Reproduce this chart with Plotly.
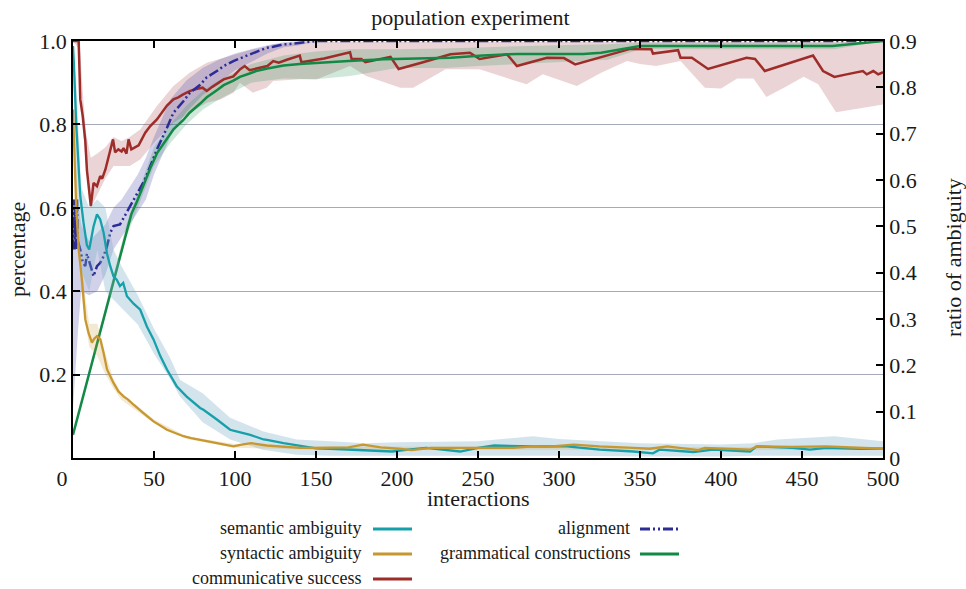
import plotly.graph_objects as go

# ---------------- data ----------------
# communicative success (left axis, percentage)
cs_x = [0, 3.5, 4.5, 6, 7.6, 8.6, 10, 11, 12.7, 14.8, 16.8, 18, 20, 22, 24.7, 26, 28, 30, 31.2, 33, 34.3, 36, 38,
        40.5, 44.6, 47.7, 51.8, 55, 58, 62, 65, 68, 72, 76, 80, 82.6, 86, 93, 99, 103, 106, 109, 115, 120, 123.6,
        127, 132, 136, 140, 141, 155, 171, 172, 178, 180.5, 196, 201, 215, 233, 245, 251, 268, 274, 292.6, 303,
        310, 325.8, 344, 357, 358, 373.5, 375, 382, 392, 415.8, 421, 427, 456.8, 463, 470, 477.5, 487.6, 490, 494,
        497, 500]
cs_y = [1.0, 1.0, 0.86, 0.82, 0.76, 0.69, 0.64, 0.604, 0.66, 0.652, 0.676, 0.67, 0.692, 0.72, 0.764, 0.733, 0.74,
        0.735, 0.743, 0.73, 0.764, 0.74, 0.745, 0.75, 0.78, 0.796, 0.812, 0.83, 0.845, 0.86, 0.865, 0.872, 0.88,
        0.885, 0.888, 0.88, 0.89, 0.908, 0.915, 0.932, 0.94, 0.93, 0.935, 0.94, 0.952, 0.948, 0.955, 0.96, 0.965,
        0.949, 0.958, 0.973, 0.957, 0.957, 0.949, 0.962, 0.933, 0.948, 0.968, 0.972, 0.957, 0.968, 0.94, 0.96,
        0.959, 0.944, 0.962, 0.981, 0.98, 0.97, 0.978, 0.96, 0.96, 0.933, 0.96, 0.957, 0.928, 0.965, 0.928, 0.914,
        0.92, 0.928, 0.92, 0.928, 0.92, 0.925]
cs_band_x = [0, 4, 6, 8, 11, 15, 20, 25, 30, 35, 41.5, 51.8, 62, 72, 82.6, 91, 99, 103, 111, 119.5, 123.6, 140,
             150.6, 171, 181, 202, 210, 230, 251, 280, 290, 311, 326, 342, 350, 360, 375, 390, 400, 410, 420, 428,
             440, 451, 460, 471, 480, 490, 500]
cs_band_hi = [1.0, 1.0, 0.88, 0.78, 0.72, 0.73, 0.745, 0.77, 0.76, 0.77, 0.788, 0.844, 0.892, 0.924, 0.948, 0.958,
              0.966, 0.972, 0.98, 0.986, 0.992, 0.996, 0.998, 0.998, 0.998, 0.998, 0.998, 0.998, 0.998, 0.998,
              0.998, 0.998, 0.998, 0.998, 0.998, 0.998, 0.998, 0.998, 0.998, 0.998, 0.998, 0.998, 0.998, 0.998,
              0.998, 0.998, 0.998, 0.998, 0.998]
cs_band_lo = [1.0, 0.98, 0.8, 0.7, 0.6, 0.63, 0.67, 0.7, 0.7, 0.7, 0.716, 0.764, 0.804, 0.828, 0.852, 0.86, 0.876,
              0.9, 0.876, 0.888, 0.904, 0.908, 0.908, 0.94, 0.916, 0.888, 0.888, 0.932, 0.932, 0.896, 0.92, 0.892,
              0.924, 0.952, 0.945, 0.94, 0.952, 0.888, 0.886, 0.91, 0.91, 0.866, 0.89, 0.914, 0.896, 0.829, 0.836,
              0.842, 0.848]

# alignment (left axis)
al_x = [0, 0.5, 1, 1.5, 2, 2.5, 3, 4.5, 6, 7.6, 8.6, 10.7, 12.7, 14.8, 16.8, 18.9, 21, 23, 25, 29, 33.3, 36, 39.5,
        44, 47.7, 51.8, 58, 62, 68, 72, 78.5, 82.6, 88.8, 93, 99, 103, 109, 113, 119.7, 123.6, 130, 134, 140, 150,
        500]
al_y = [0.5, 0.62, 0.5, 0.6, 0.5, 0.62, 0.52, 0.5, 0.47, 0.46, 0.49, 0.46, 0.436, 0.46, 0.468, 0.484, 0.508, 0.54,
        0.556, 0.56, 0.59, 0.61, 0.632, 0.665, 0.7, 0.74, 0.792, 0.828, 0.855, 0.875, 0.895, 0.913, 0.928, 0.94,
        0.952, 0.958, 0.968, 0.974, 0.984, 0.986, 0.992, 0.993, 0.996, 1.0, 1.0]
al_band_x = [0, 3, 5, 10, 15, 20, 25, 30, 35, 40, 45, 50, 60, 70, 80, 90, 100, 110, 120, 130, 140, 150, 500]
al_band_hi = [0.62, 0.62, 0.56, 0.52, 0.54, 0.56, 0.6, 0.62, 0.65, 0.68, 0.72, 0.77, 0.86, 0.905, 0.935, 0.955,
              0.97, 0.98, 0.99, 0.997, 1.0, 1.0, 1.0]
al_band_lo = [0.12, 0.3, 0.4, 0.39, 0.4, 0.44, 0.5, 0.53, 0.56, 0.59, 0.62, 0.68, 0.77, 0.83, 0.87, 0.9, 0.93,
              0.95, 0.97, 0.985, 0.99, 1.0, 1.0]

# grammatical constructions (left axis)
gc_x = [0, 33.3, 36, 39.5, 44, 47.7, 52, 58, 62, 68, 72, 78.5, 82.6, 88.8, 93, 99, 103, 109, 113, 120, 130, 140,
        150.6, 170, 191.7, 233, 253, 274, 315, 326, 350, 395, 468.8, 500]
gc_y = [0.056, 0.548, 0.585, 0.615, 0.66, 0.695, 0.732, 0.765, 0.788, 0.81, 0.828, 0.85, 0.865, 0.882, 0.894,
        0.905, 0.914, 0.922, 0.928, 0.934, 0.941, 0.945, 0.948, 0.952, 0.956, 0.96, 0.965, 0.969, 0.969, 0.972,
        0.988, 0.988, 0.988, 1.0]
gc_band_x = [0, 33, 40, 50, 60, 70, 80, 90, 100, 110, 130, 150, 171, 200, 230, 250, 280, 300, 330, 350, 400, 450,
             470, 500]
gc_band_hi = [0.06, 0.56, 0.635, 0.745, 0.8, 0.845, 0.88, 0.905, 0.925, 0.945, 0.965, 0.975, 0.98, 0.98, 0.982,
              0.985, 0.988, 0.99, 0.992, 0.996, 0.996, 0.996, 0.996, 1.0]
gc_band_lo = [0.05, 0.53, 0.6, 0.7, 0.755, 0.8, 0.835, 0.86, 0.88, 0.9, 0.91, 0.908, 0.916, 0.935, 0.935, 0.94,
              0.945, 0.95, 0.955, 0.98, 0.98, 0.98, 0.98, 1.0]

# semantic ambiguity (right axis, ratio of ambiguity)
sa_x = [0, 0.5, 2, 3.5, 4.5, 6.5, 8.6, 10, 12.7, 14.8, 16.8, 18.9, 21, 23, 25, 27, 29, 31, 33.3, 37.4, 41.5, 45.6,
        49.7, 53.9, 58, 64, 66, 70, 78.5, 80.5, 88.8, 97, 99, 109.4, 117.6, 119.7, 130, 138, 150, 158.7, 181, 197,
        207, 218, 239, 250, 260, 284, 305, 315, 325, 346, 356, 358, 362, 383, 395, 418, 422, 444, 455, 465, 485,
        500]
sa_y = [0.889, 0.855, 0.72, 0.63, 0.565, 0.508, 0.459, 0.45, 0.5, 0.526, 0.515, 0.486, 0.441, 0.414, 0.392, 0.385,
        0.371, 0.378, 0.349, 0.333, 0.32, 0.284, 0.256, 0.22, 0.191, 0.155, 0.148, 0.133, 0.108, 0.104, 0.083,
        0.061, 0.059, 0.05, 0.04, 0.039, 0.032, 0.027, 0.021, 0.02, 0.017, 0.014, 0.018, 0.022, 0.014, 0.022,
        0.027, 0.025, 0.025, 0.022, 0.018, 0.014, 0.011, 0.01, 0.018, 0.013, 0.018, 0.014, 0.025, 0.022, 0.018,
        0.022, 0.02, 0.02]
sa_band_x = [0, 2, 5, 10, 15, 20, 25, 30, 40, 50, 60, 66, 80, 97, 117, 138, 159, 180, 200, 250, 284, 300, 350, 400,
             420, 435, 470, 500]
sa_band_hi = [0.891, 0.81, 0.585, 0.54, 0.558, 0.54, 0.45, 0.414, 0.351, 0.279, 0.216, 0.169, 0.14, 0.087, 0.058,
              0.04, 0.036, 0.032, 0.034, 0.036, 0.047, 0.041, 0.032, 0.029, 0.032, 0.04, 0.047, 0.036]
sa_band_lo = [0.855, 0.54, 0.405, 0.36, 0.45, 0.36, 0.342, 0.324, 0.288, 0.225, 0.171, 0.133, 0.077, 0.04, 0.018,
              0.007, 0.005, 0.004, 0.004, 0.005, 0.005, 0.005, 0.003, 0.003, 0.005, 0.005, 0.005, 0.005]

# syntactic ambiguity (right axis)
sy_x = [0, 1, 2, 3.5, 5.5, 7.6, 9.6, 11.7, 13, 14.8, 16.9, 19, 21, 25, 28, 31.2, 34, 37.4, 40, 43.5, 49.7, 54, 58,
        63, 68.2, 73, 78.5, 83, 88.8, 94, 99, 104, 110, 119.7, 130, 140, 150, 160.8, 170, 179, 190, 201, 209, 221,
        242, 250, 263.8, 272, 284, 292, 309, 325, 346, 356, 366.8, 386, 390, 418, 422, 444, 465, 485, 500]
sy_y = [0.752, 0.63, 0.54, 0.45, 0.385, 0.299, 0.27, 0.249, 0.257, 0.263, 0.256, 0.225, 0.191, 0.162, 0.144,
        0.133, 0.126, 0.115, 0.108, 0.097, 0.079, 0.07, 0.061, 0.054, 0.047, 0.043, 0.039, 0.036, 0.031, 0.027,
        0.025, 0.029, 0.032, 0.027, 0.025, 0.022, 0.022, 0.022, 0.023, 0.029, 0.023, 0.02, 0.017, 0.022, 0.022,
        0.023, 0.022, 0.022, 0.025, 0.024, 0.029, 0.025, 0.022, 0.02, 0.025, 0.017, 0.022, 0.018, 0.025, 0.024,
        0.025, 0.023, 0.02]
sy_band_x = [0, 5, 10, 15, 20, 25, 30, 50, 70, 100, 150, 500]
sy_band_hi = [0.756, 0.41, 0.29, 0.29, 0.225, 0.17, 0.14, 0.083, 0.047, 0.03, 0.025, 0.023]
sy_band_lo = [0.74, 0.36, 0.24, 0.22, 0.18, 0.15, 0.125, 0.075, 0.041, 0.022, 0.018, 0.018]

x_ticks = [0, 50, 100, 150, 200, 250, 300, 350, 400, 450, 500]
x_ticktext = ["0\u00a0\u00a0\u00a0\u00a0", "50", "100", "150", "200", "250", "300", "350", "400", "450", "500"]
y_ticks = [0.2, 0.4, 0.6, 0.8, 1.0]
y_ticktext = ["0.2", "0.4", "0.6", "0.8", "1.0"]
y2_ticks = [0, 0.1, 0.2, 0.3, 0.4, 0.5, 0.6, 0.7, 0.8, 0.9]
y2_ticktext = ["0", "0.1", "0.2", "0.3", "0.4", "0.5", "0.6", "0.7", "0.8", "0.9"]

# ---------------- styles ----------------
C_TEAL = "rgb(22,160,170)"
C_GOLD = "rgb(200,152,48)"
C_RED = "rgb(158,44,40)"
C_BLUE = "rgb(44,44,150)"
C_GREEN = "rgb(18,138,70)"
DASH_AL = "10px,3px,2px,3px,2px,3px"
FONT = "Liberation Serif"
TXT = "#1a1a1a"

fig = go.Figure()


def band(x, hi, lo, color, axis):
    fig.add_trace(go.Scatter(x=list(x) + list(x)[::-1], y=list(hi) + list(lo)[::-1], fill="toself",
                             fillcolor=color, line=dict(width=0), mode="lines", yaxis=axis,
                             hoverinfo="skip", showlegend=False))


band(sa_band_x, sa_band_hi, sa_band_lo, "rgba(120,170,195,0.32)", "y2")
band(sy_band_x, sy_band_hi, sy_band_lo, "rgba(200,152,48,0.22)", "y2")
band(cs_band_x, cs_band_hi, cs_band_lo, "rgba(160,60,70,0.22)", "y")
band(al_band_x, al_band_hi, al_band_lo, "rgba(70,70,170,0.25)", "y")
band(gc_band_x, gc_band_hi, gc_band_lo, "rgba(18,138,70,0.2)", "y")

fig.add_trace(go.Scatter(x=sa_x, y=sa_y, mode="lines", line=dict(color=C_TEAL, width=2.3), yaxis="y2",
                         name="semantic ambiguity", showlegend=False))
fig.add_trace(go.Scatter(x=sy_x, y=sy_y, mode="lines", line=dict(color=C_GOLD, width=2.3), yaxis="y2",
                         name="syntactic ambiguity", showlegend=False))
fig.add_trace(go.Scatter(x=cs_x, y=cs_y, mode="lines", line=dict(color=C_RED, width=2.5), yaxis="y",
                         name="communicative success", showlegend=False))
fig.add_trace(go.Scatter(x=al_x, y=al_y, mode="lines", line=dict(color=C_BLUE, width=2.5, dash=DASH_AL),
                         yaxis="y", name="alignment", showlegend=False))
fig.add_trace(go.Scatter(x=gc_x, y=gc_y, mode="lines", line=dict(color=C_GREEN, width=2.5), yaxis="y",
                         name="grammatical constructions", showlegend=False))

# ---------------- custom legend (text left of sample line) ----------------
PL, PR, PT, PB = 73, 883, 41, 458


def px2paper(px, py):
    return (px - PL) / (PR - PL), (PB - py) / (PB - PT)


legend_items = [
    ("semantic ambiguity", C_TEAL, "solid", 363, 373, 412, 528),
    ("syntactic ambiguity", C_GOLD, "solid", 363, 373, 412, 553),
    ("communicative success", C_RED, "solid", 363, 373, 412, 578),
    ("alignment", C_BLUE, DASH_AL, 632, 640, 679, 528),
    ("grammatical constructions", C_GREEN, "solid", 632, 640, 679, 553),
]
annotations = []
shapes = []
for label, col, dsh, tx, lx0, lx1, ly in legend_items:
    ax, ay = px2paper(tx, ly)
    annotations.append(dict(text=label, x=ax, y=ay, xref="paper", yref="paper", xanchor="right",
                            yanchor="middle", showarrow=False, font=dict(family=FONT, size=18, color=TXT)))
    x0, y0 = px2paper(lx0, ly + 1)
    x1, _ = px2paper(lx1, ly + 1)
    shapes.append(dict(type="line", xref="paper", yref="paper", x0=x0, x1=x1, y0=y0, y1=y0,
                       line=dict(color=col, width=3, dash=dsh)))

# axis titles
for text, px, py, ang in [("interactions", 478, 498, 0), ("percentage", 17, 250, -90),
                          ("ratio of ambiguity", 953, 258, -90)]:
    ax, ay = px2paper(px, py)
    annotations.append(dict(text=text, x=ax, y=ay, xref="paper", yref="paper", xanchor="center",
                            yanchor="middle", showarrow=False, textangle=ang,
                            font=dict(family=FONT, size=22, color=TXT)))

fig.update_layout(
    width=966, height=589,
    margin=dict(l=PL, r=966 - PR, t=PT, b=589 - PB),
    paper_bgcolor="white", plot_bgcolor="white",
    font=dict(family=FONT, size=22, color=TXT),
    title=dict(text="population experiment", x=0.487, xanchor="center", y=1 - 17 / 589, yanchor="middle",
               yref="container", font=dict(family=FONT, size=22, color=TXT)),
    xaxis=dict(range=[0, 500], tickvals=x_ticks, ticktext=x_ticktext, ticks="inside", ticklen=7, tickwidth=1.5,
               tickcolor="black", showline=True, linecolor="black", linewidth=1.8, mirror="ticks",
               showgrid=False, zeroline=False, tickfont=dict(family=FONT, size=22, color=TXT)),
    yaxis=dict(range=[0, 1], tickvals=y_ticks, ticktext=y_ticktext, ticks="inside", ticklen=7, tickwidth=1.5,
               tickcolor="black", showline=True, linecolor="black", linewidth=1.8, showgrid=True,
               gridcolor="rgb(165,170,185)", gridwidth=1, zeroline=False,
               tickfont=dict(family=FONT, size=22, color=TXT)),
    yaxis2=dict(range=[0, 0.9], tickvals=y2_ticks, ticktext=y2_ticktext, overlaying="y", side="right",
                ticks="inside", ticklen=7, tickwidth=1.5, tickcolor="black", showline=True, linecolor="black",
                linewidth=1.8, showgrid=False, zeroline=False, tickfont=dict(family=FONT, size=22, color=TXT)),
    annotations=annotations,
    shapes=shapes,
    showlegend=False,
)

fig.write_html("out.html", config={"displayModeBar": False},
               post_script="document.body.style.margin='0';document.body.style.overflow='hidden';")
